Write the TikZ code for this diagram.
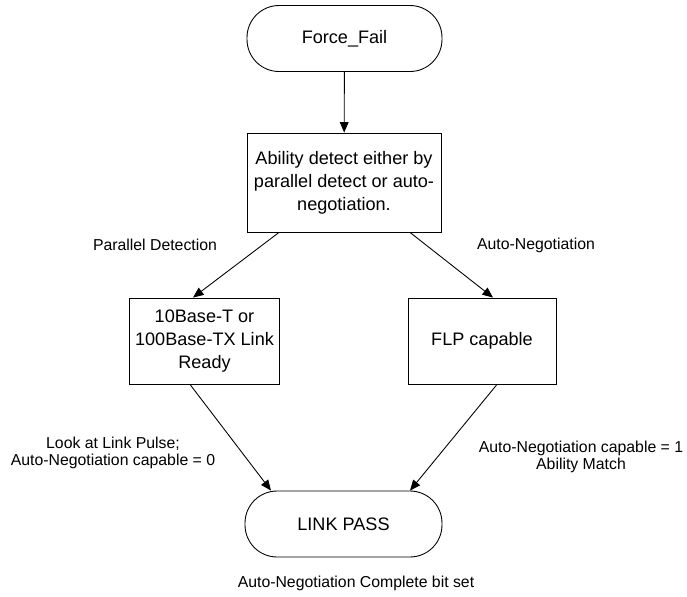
\documentclass[tikz,border=0pt]{standalone}
\usepackage{fontspec}
\setmainfont{Liberation Sans}
\usetikzlibrary{arrows.meta,calc}
\begin{document}
\begin{tikzpicture}[x=0.02cm,y=-0.02cm,line width=0.5pt,
  term/.style={draw,rounded corners=0.64cm,minimum width=3.9cm,minimum height=1.32cm,font=\fontsize{10.3}{13}\selectfont},
  proc/.style={draw,align=center,font=\fontsize{10.3}{13}\selectfont},
  lbl/.style={align=center,font=\fontsize{9}{9.6}\selectfont},
  arr/.style={-{Triangle[length=6pt,width=5pt]}}]
  \useasboundingbox (0,0) rectangle (687,596);
  \node[term] (fail) at (344.5,38.5) {Force\_Fail};
  \node[proc,minimum width=3.88cm,minimum height=1.98cm] (abil) at (344,182.5)
  	{Ability detect either by\\parallel detect or auto-\\negotiation.};
  \node[proc,minimum width=2.98cm,minimum height=1.72cm] (ready) at (204.5,341)
  	{10Base-T or\\100Base-TX Link\\Ready};
  \node[proc,minimum width=2.96cm,minimum height=1.72cm] (flp) at (482,341) {FLP capable};
  \node[term,minimum width=3.94cm] (pass) at (343.5,524) {LINK PASS};
  \node[lbl] (pdet) at (155,245) {Parallel Detection};
  \node[lbl] (aneg) at (536,245) {Auto-Negotiation};
  \node[lbl] (pulse) at (113,453) {Look at Link Pulse;\\Auto-Negotiation capable = 0};
  \node[lbl] (match) at (581,457) {Auto-Negotiation capable = 1\\Ability Match};
  \node[lbl] (done) at (356,583) {Auto-Negotiation Complete bit set};
  \draw[arr] (fail) -- (abil);
  \draw[arr] ($(abil.south)+(-65,0)$) -- ($(ready.north)+(-11.5,0)$);
  \draw[arr] ($(abil.south)+(66,0)$) -- ($(flp.north)+(11,0)$);
  \draw[arr] ($(ready.south)+(-14.5,0)$) -- ($(pass.north)+(-72.5,0)$);
  \draw[arr] ($(flp.south)+(15,0)$) -- ($(pass.north)+(66.5,0)$);
\end{tikzpicture}
\end{document}
